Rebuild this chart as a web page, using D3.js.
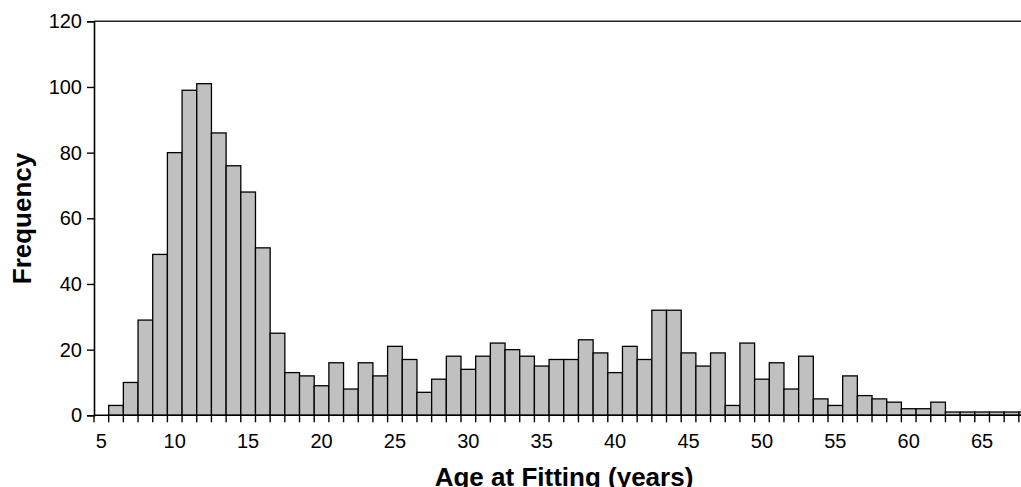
<!DOCTYPE html>
<html>
<head>
<meta charset="utf-8">
<script src="https://cdn.jsdelivr.net/npm/d3@7/dist/d3.min.js"></script>
<style>
  html, body { margin: 0; padding: 0; background: #fff; overflow: hidden; }
  svg { display: block; font-family: "Liberation Sans", Arial, sans-serif; }
</style>
</head>
<body>
<svg id="chart" width="1021" height="487"></svg>
<script>
// Data
const ages = d3.range(5, 69); // 5..68 (last bin cut off at the right edge)
const frequencies = [
  0, 3, 10, 29, 49, 80, 99, 101, 86, 76, 68, 51, 25, 13, 12, 9,
  16, 8, 16, 12, 21, 17, 7, 11, 18, 14, 18, 22, 20, 18, 15, 17,
  17, 23, 19, 13, 21, 17, 32, 32, 19, 15, 19, 3, 22, 11, 16, 8,
  18, 5, 3, 12, 6, 5, 4, 2, 2, 4, 1, 1, 1, 1, 1, 1
];
const yTicks = [0, 20, 40, 60, 80, 100, 120];
const xLabelAges = [5, 10, 15, 20, 25, 30, 35, 40, 45, 50, 55, 60, 65];
const xTitle = "Age at Fitting (years)";
const yTitle = "Frequency";

(function () {
const svg = d3.select("#chart");
const plotLeft = 94, plotTop = 21.3, plotBottom = 415.3;
const binW = 14.68;

const x = d3.scaleBand().domain(ages).range([plotLeft, plotLeft + ages.length * binW]).padding(0);
const y = d3.scaleLinear().domain([0, 120]).range([plotBottom, plotTop]);

// bars
svg.append("g").selectAll("rect")
  .data(ages.map((a, i) => ({ age: a, v: frequencies[i] })))
  .join("rect")
  .attr("x", d => x(d.age))
  .attr("y", d => y(d.v))
  .attr("width", x.bandwidth())
  .attr("height", d => y(0) - y(d.v))
  .attr("fill", "#c0c0c0")
  .attr("stroke", "#000")
  .attr("stroke-width", 1.3);

// top border line
svg.append("line")
  .attr("x1", plotLeft).attr("x2", 1021)
  .attr("y1", y(120)).attr("y2", y(120))
  .attr("stroke", "#222").attr("stroke-width", 1.5);

// y axis
const yAxis = d3.axisLeft(y).tickValues(yTicks).tickSize(7).tickPadding(5);
const gy = svg.append("g").attr("transform", `translate(${plotLeft},0)`).call(yAxis);
gy.select(".domain").attr("stroke", "#000").attr("stroke-width", 1.6);
gy.selectAll(".tick line").attr("stroke", "#000").attr("stroke-width", 1.4);
gy.selectAll(".tick text").attr("font-size", 20).attr("fill", "#000")
  .attr("font-family", "'Liberation Sans', Arial, sans-serif");

// x axis: ticks at band boundaries, labels at band centres
const boundaries = ages.map(a => x(a)).concat([x(ages[ages.length - 1]) + binW]);
const gx = svg.append("g");
gx.append("line")
  .attr("x1", plotLeft).attr("x2", 1021)
  .attr("y1", plotBottom).attr("y2", plotBottom)
  .attr("stroke", "#000").attr("stroke-width", 1.6);
gx.selectAll("line.tk").data(boundaries).join("line")
  .attr("class", "tk")
  .attr("x1", d => d).attr("x2", d => d)
  .attr("y1", plotBottom).attr("y2", plotBottom + 7)
  .attr("stroke", "#000").attr("stroke-width", 1.4);
gx.selectAll("text").data(xLabelAges).join("text")
  .attr("x", d => x(d) + x.bandwidth() / 2)
  .attr("y", 448)
  .attr("text-anchor", "middle")
  .attr("font-size", 20)
  .attr("fill", "#000")
  .text(d => d);

// axis titles
svg.append("text")
  .attr("x", 564).attr("y", 486)
  .attr("text-anchor", "middle")
  .attr("font-size", 26).attr("font-weight", "bold")
  .attr("fill", "#000")
  .text(xTitle);

svg.append("text")
  .attr("transform", `translate(31,218.5) rotate(-90)`)
  .attr("text-anchor", "middle")
  .attr("font-size", 26).attr("font-weight", "bold")
  .attr("fill", "#000")
  .text(yTitle);
})();
</script>
</body>
</html>
